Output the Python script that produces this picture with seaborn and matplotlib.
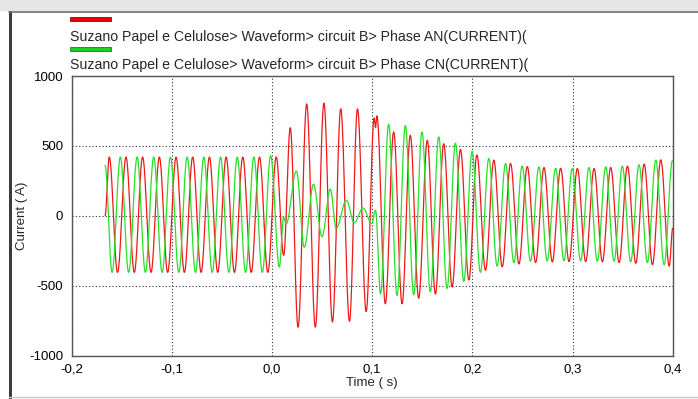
import numpy as np
import pandas as pd
import matplotlib
matplotlib.use("Agg")
import matplotlib.pyplot as plt
from matplotlib.ticker import MultipleLocator, FixedLocator
from matplotlib.patches import Rectangle
import seaborn as sns

# Phase AN current: successive peaks / troughs of the recorded waveform (time s, current A)
an_time = [-0.1667, -0.1625, -0.1542, -0.1458, -0.1375, -0.1292, -0.1208, -0.1125, -0.1042,
           -0.0958, -0.0875, -0.0792, -0.0708, -0.0625, -0.0542, -0.0458, -0.0375, -0.0292,
           -0.0208, -0.0125, -0.0042, 0.0042, 0.0116, 0.0182, 0.0260, 0.0346, 0.0432, 0.0518,
           0.0603, 0.0686, 0.0773, 0.0853, 0.0940, 0.1020, 0.1033, 0.1047, 0.1131, 0.1214,
           0.1298, 0.1380, 0.1464, 0.1550, 0.1631, 0.1714, 0.1798, 0.1881, 0.1965, 0.2045,
           0.2131, 0.2214, 0.2298, 0.2381, 0.2465, 0.2548, 0.2631, 0.2715, 0.2798, 0.2881,
           0.2965, 0.3048, 0.3131, 0.3215, 0.3298, 0.3381, 0.3465, 0.3548, 0.3631, 0.3715,
           0.3798, 0.3881, 0.3965, 0.4000]
an_current = [0, 420, -405, 420, -405, 420, -405, 420, -405,
              420, -405, 420, -405, 420, -405, 420, -405, 420,
              -405, 420, -405, 421, -283, 630, -797, 800, -797, 805,
              -760, 765, -755, 765, -685, 700, 630, 715, -630, 600,
              -630, 575, -590, 540, -560, 515, -510, 475, -460, 435,
              -390, 398, -365, 374, -345, 352, -335, 345, -330, 340,
              -328, 338, -328, 338, -330, 345, -335, 355, -340, 370,
              -350, 400, -360, -90]

# Phase CN current: successive peaks / troughs (time s, current A)
cn_time = [-0.1667, -0.1597, -0.1514, -0.1431, -0.1347, -0.1264, -0.1181, -0.1097, -0.1014,
           -0.0931, -0.0847, -0.0764, -0.0681, -0.0597, -0.0514, -0.0431, -0.0347, -0.0264,
           -0.0181, -0.0097, -0.0014, 0.0073, 0.0115, 0.0140, 0.0243, 0.0322, 0.0414, 0.0499,
           0.0582, 0.0640, 0.0742, 0.0820, 0.0908, 0.0995, 0.1033, 0.1083, 0.1164, 0.1248,
           0.1331, 0.1414, 0.1497, 0.1580, 0.1664, 0.1747, 0.1831, 0.1914, 0.1997, 0.2080,
           0.2164, 0.2247, 0.2331, 0.2414, 0.2497, 0.2580, 0.2664, 0.2747, 0.2831, 0.2914,
           0.2997, 0.3080, 0.3164, 0.3247, 0.3331, 0.3414, 0.3497, 0.3580, 0.3664, 0.3747,
           0.3831, 0.3914, 0.3997]
cn_current = [360, -405, 420, -405, 420, -405, 420, -405, 420,
              -405, 420, -405, 420, -405, 420, -405, 420, -405,
              420, -405, 430, -367, -10, -60, 320, -225, 225, -150,
              190, -90, 111, -50, 55, -56, 40, -560, 655, -570,
              645, -565, 600, -545, 565, -520, 520, -470, 460, -405,
              410, -360, 374, -335, 355, -325, 350, -322, 340, -322,
              338, -322, 345, -325, 350, -325, 355, -330, 365, -335,
              398, -350, 395]

series_names = ["Suzano Papel e Celulose> Waveform> circuit B> Phase AN(CURRENT)(",
                "Suzano Papel e Celulose> Waveform> circuit B> Phase CN(CURRENT)("]
series_colors = ["#f01818", "#28e028"]

x_ticks = [-0.2, -0.1, 0.0, 0.1, 0.2, 0.3, 0.4]
x_tick_labels = ["-0,2", "-0,1", "0,0", "0,1", "0,2", "0,3", "0,4"]
y_ticks = [-1000, -500, 0, 500, 1000]
y_tick_labels = ["-1000", "-500", "0", "500", "1000"]


def trace(times, values, n=24):
    """Join successive extrema with half-cosine arcs, the shape of a sampled sine."""
    xs, ys = [], []
    s = np.linspace(0.0, 1.0, n, endpoint=False)
    for (t0, v0), (t1, v1) in zip(zip(times[:-1], values[:-1]), zip(times[1:], values[1:])):
        w = (1 - np.cos(np.pi * s)) / 2
        xs.extend(t0 + (t1 - t0) * s)
        ys.extend(v0 + (v1 - v0) * w)
    xs.append(times[-1])
    ys.append(values[-1])
    return np.array(xs), np.array(ys)


frames = []
for name, t, v in [(series_names[0], an_time, an_current), (series_names[1], cn_time, cn_current)]:
    xs, ys = trace(t, v)
    frames.append(pd.DataFrame({"Time": xs, "Current": ys, "series": name}))
data = pd.concat(frames, ignore_index=True)

sns.set_style("white")
plt.rcParams["font.family"] = ["Liberation Sans", "DejaVu Sans"]
plt.rcParams["axes.unicode_minus"] = False

fig = plt.figure(figsize=(6.98, 3.99), dpi=100)
ax = fig.add_axes([0.1027, 0.109, 0.8611, 0.7005])

sns.lineplot(data=data, x="Time", y="Current", hue="series", palette=series_colors,
             estimator=None, sort=False, linewidth=0.9, legend=False, ax=ax)

ax.set_xlim(-0.2, 0.4)
ax.set_ylim(-1000, 1000)
ax.xaxis.set_major_locator(FixedLocator(x_ticks))
ax.set_xticklabels(x_tick_labels)
ax.yaxis.set_major_locator(FixedLocator(y_ticks))
ax.set_yticklabels(y_tick_labels)
ax.xaxis.set_minor_locator(MultipleLocator(0.02))
ax.yaxis.set_minor_locator(MultipleLocator(100))
ax.tick_params(which="major", direction="out", length=4, width=0.8, color="#303030",
               labelsize=9.5, labelcolor="black", pad=2)
ax.tick_params(which="minor", direction="in", length=5, width=0.8, color="#303030")

ax.grid(True, which="major", color="#333333", linestyle=(0, (1, 2)), linewidth=0.8)
for side in ax.spines.values():
    side.set_color("#555555")
    side.set_linewidth(1.0)

ax.set_xlabel("Time ( s)", fontsize=9.5, labelpad=1)
ax.set_ylabel("Current ( A)", fontsize=9.5, labelpad=1)

# legend: colour bar above each series name
fig.patches.append(Rectangle((70 / 698, 1 - 21 / 399), 41 / 698, 4 / 399,
                             transform=fig.transFigure, facecolor="#e80000",
                             edgecolor="#600000", linewidth=0.5))
fig.patches.append(Rectangle((70 / 698, 1 - 51 / 399), 41 / 698, 4 / 399,
                             transform=fig.transFigure, facecolor="#20d020",
                             edgecolor="#106010", linewidth=0.5))
fig.text(70 / 698, 1 - 37 / 399, series_names[0], fontsize=10.2, va="center", ha="left")
fig.text(70 / 698, 1 - 65 / 399, series_names[1], fontsize=10.2, va="center", ha="left")

# window frame
fig.patches.append(Rectangle((0, 1 - 11 / 399), 1, 11 / 399, transform=fig.transFigure,
                             facecolor="#e6e6e6", edgecolor="none"))
fig.patches.append(Rectangle((9 / 698, 0), 3 / 698, 1 - 11 / 399, transform=fig.transFigure,
                             facecolor="#3c3c3c", edgecolor="none"))
fig.lines.append(plt.Line2D([9 / 698, 1], [1 - 11.5 / 399, 1 - 11.5 / 399],
                            transform=fig.transFigure, color="#707070", linewidth=1.2))
fig.lines.append(plt.Line2D([9 / 698, 1], [2 / 399, 2 / 399],
                            transform=fig.transFigure, color="#c8c8c8", linewidth=1.0))

fig.savefig("out.png", dpi=100)
